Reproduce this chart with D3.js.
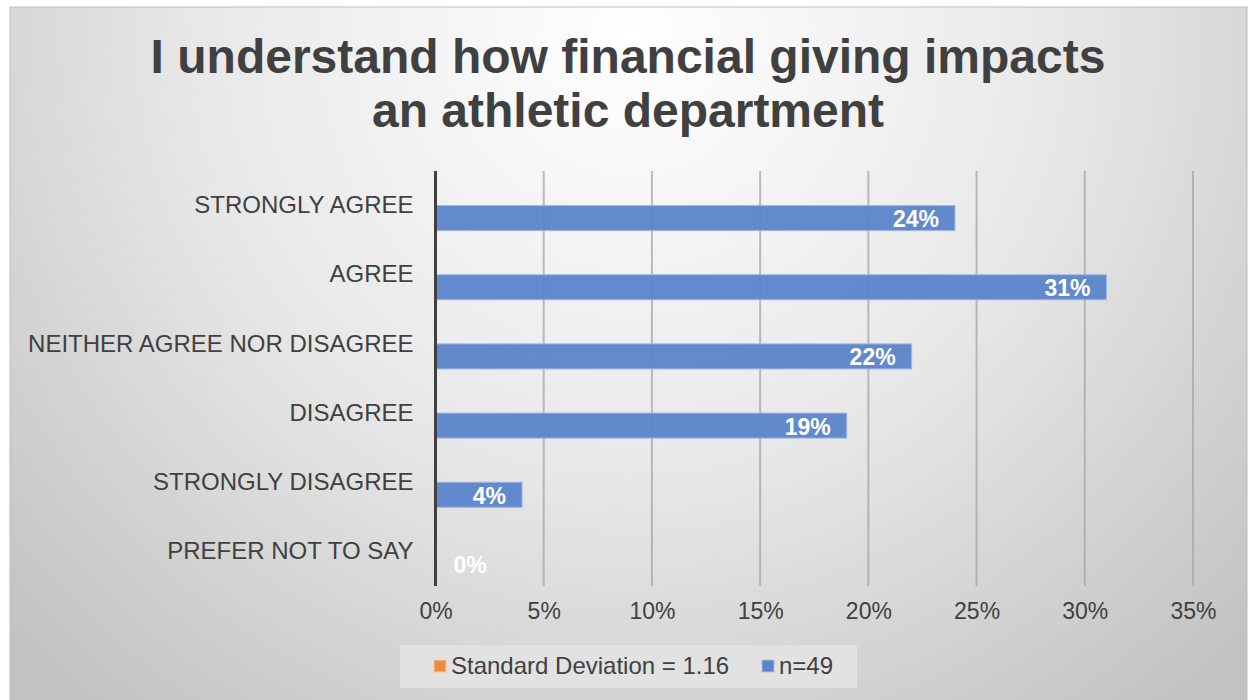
<!DOCTYPE html>
<html>
<head>
<meta charset="utf-8">
<script src="https://cdn.jsdelivr.net/npm/d3@7"></script>
<style>
  html, body { margin: 0; padding: 0; background: #ffffff; }
  svg { display: block; }
  text { font-family: "Liberation Sans", Arial, sans-serif; }
</style>
</head>
<body>
<svg id="chart" width="1248" height="700"></svg>
<script>
// Survey responses, top to bottom
const categories = [
  "STRONGLY AGREE",
  "AGREE",
  "NEITHER AGREE NOR DISAGREE",
  "DISAGREE",
  "STRONGLY DISAGREE",
  "PREFER NOT TO SAY"
];
// Share of respondents (%) for the n=49 series
const responseShare = [24, 31, 22, 19, 4, 0];
// Series shown in the legend (the first one carries no bars)
const seriesNames = ["Standard Deviation = 1.16", "n=49"];
const seriesColors = ["#ed8b45", "#5b84c9"];
const xTicks = [0, 5, 10, 15, 20, 25, 30, 35];
const titleLines = ["I understand how financial giving impacts", "an athletic department"];

const svg = d3.select("#chart");

// Backdrop: soft radial grey fading from the top centre
const defs = svg.append("defs");
const grad = defs.append("radialGradient")
  .attr("id", "bg")
  .attr("gradientUnits", "userSpaceOnUse")
  .attr("cx", 630).attr("cy", 40).attr("r", 860);
grad.append("stop").attr("offset", 0).attr("stop-color", "#ffffff");
grad.append("stop").attr("offset", 0.5).attr("stop-color", "#e8e8e8");
grad.append("stop").attr("offset", 1).attr("stop-color", "#c2c2c2");

svg.append("rect")
  .attr("x", 10).attr("y", 7).attr("width", 1237).attr("height", 700)
  .attr("fill", "url(#bg)")
  .attr("stroke", "#bdbdbd").attr("stroke-width", 1);

// Title
const title = svg.append("text")
  .attr("text-anchor", "middle")
  .attr("font-weight", "bold")
  .attr("font-size", 48)
  .attr("fill", "#404040");
titleLines.forEach((t, i) => {
  title.append("tspan").attr("x", 628).attr("y", 73 + i * 54).text(t);
});

// Plot geometry
const plot = { left: 435.5, right: 1193, top: 171, bottom: 586 };

const x = d3.scaleLinear().domain([0, 35]).range([plot.left, plot.right]);
const y0 = d3.scaleBand().domain(categories).range([plot.top, plot.bottom]).paddingInner(0.277).paddingOuter(0.1385);
const y1 = d3.scaleBand().domain(seriesNames).range([0, y0.bandwidth()]);

// Vertical gridlines
svg.append("g")
  .selectAll("line")
  .data(xTicks.slice(1))
  .join("line")
  .attr("x1", d => x(d)).attr("x2", d => x(d))
  .attr("y1", plot.top).attr("y2", plot.bottom)
  .attr("stroke", "#a6a6a6").attr("stroke-opacity", 0.75).attr("stroke-width", 2);

// Bars
const barSeries = seriesNames[1];
svg.append("g")
  .selectAll("rect")
  .data(categories.map((c, i) => ({ c, v: responseShare[i] })))
  .join("rect")
  .attr("x", x(0))
  .attr("y", d => y0(d.c) + y1(barSeries))
  .attr("width", d => x(d.v) - x(0))
  .attr("height", y1.bandwidth())
  .attr("fill", seriesColors[1])
  .attr("fill-opacity", 0.95)
  .attr("stroke", "#9fb6e0").attr("stroke-width", 1);

// Category axis
const yAxis = svg.append("g")
  .attr("transform", `translate(${plot.left},0)`)
  .call(d3.axisLeft(y0).tickSize(0).tickPadding(22));
yAxis.select(".domain").remove();
yAxis.selectAll("text")
  .attr("font-family", "'Liberation Sans', Arial, sans-serif")
  .attr("font-size", 24)
  .attr("fill", "#404040");

svg.append("line")
  .attr("x1", plot.left).attr("x2", plot.left)
  .attr("y1", plot.top).attr("y2", plot.bottom)
  .attr("stroke", "#404040").attr("stroke-width", 3);

// Value axis
const xAxis = svg.append("g")
  .attr("transform", `translate(0,${plot.bottom})`)
  .call(d3.axisBottom(x).tickValues(xTicks).tickFormat(d => d + "%").tickSize(0).tickPadding(17));
xAxis.select(".domain").remove();
xAxis.selectAll("text")
  .attr("font-family", "'Liberation Sans', Arial, sans-serif")
  .attr("font-size", 23)
  .attr("fill", "#404040");

// Data labels inside the bar ends
const labels = svg.append("g");
categories.forEach((c, i) => {
  const v = responseShare[i];
  const t = labels.append("text")
    .attr("font-weight", "bold")
    .attr("font-size", 23)
    .attr("fill", "#ffffff")
    .attr("dy", "0.35em")
    .attr("y", y0(c) + y1(barSeries) + y1.bandwidth() / 2 + 1)
    .text(v + "%");
  const w = t.node().getComputedTextLength();
  const endX = Math.max(x(v) - 16, x(0) + 18 + w);
  t.attr("x", endX).attr("text-anchor", "end");
});

// Legend
const legend = svg.append("g");
legend.append("rect")
  .attr("x", 400).attr("y", 645).attr("width", 457).attr("height", 43)
  .attr("fill", "#e4e4e4").attr("fill-opacity", 0.85);
const legendX = [434, 762];
seriesNames.forEach((s, i) => {
  legend.append("rect")
    .attr("x", legendX[i]).attr("y", 660).attr("width", 12).attr("height", 12)
    .attr("fill", seriesColors[i])
    .attr("stroke", i === 0 ? "#f6c7a4" : "#a9bfe6").attr("stroke-width", 1);
  legend.append("text")
    .attr("x", legendX[i] + 17).attr("y", 674)
    .attr("font-size", 24)
    .attr("fill", "#404040")
    .text(s);
});
</script>
</body>
</html>
